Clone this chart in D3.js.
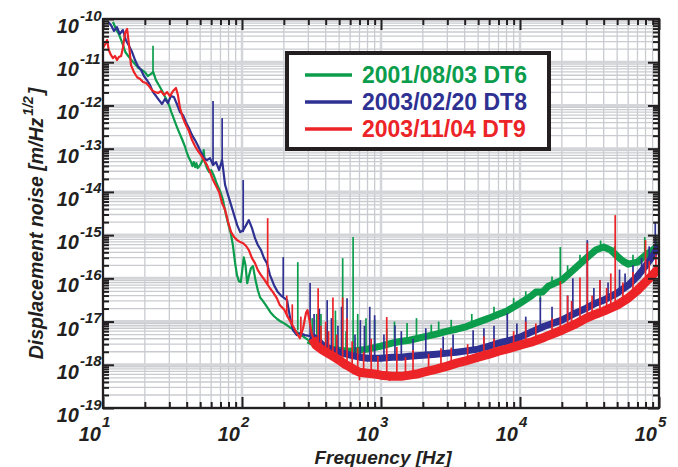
<!DOCTYPE html>
<html>
<head>
<meta charset="utf-8">
<script src="https://cdn.jsdelivr.net/npm/d3@7"></script>
<style>
  body { margin: 0; background: #fff; }
  svg text { font-family: "Liberation Sans", Arial, sans-serif; font-weight: bold; }
</style>
</head>
<body>
<svg id="chart" width="678" height="467"></svg>
<script>
// ---- axis ticks -------------------------------------------------------
const xTickExponents = [1, 2, 3, 4, 5];
const yTickExponents = [-19, -18, -17, -16, -15, -14, -13, -12, -11, -10];

// ---- series -------------------------------------------------------------
const seriesNames = ["2001/08/03 DT6", "2003/02/20 DT8", "2003/11/04 DT9"];

// DT6: low-frequency trace [Hz, m/Hz^1/2]
const dt6Trace = [[11.8,8.5e-11],[12.5,5.5e-11],[13,4.5e-11],[13.5,3.3e-11],[14,2.4e-11],[14.5,1.7e-11],[15,1.47e-11],[16,1.12e-11],[17,9.1e-12],[18,7.3e-12],[19,6.6e-12],[20,5.9e-12],[21,4.8e-12],[22,5.3e-12],[23,5.9e-12],[24,3.9e-12],[25,3.1e-12],[26,2.5e-12],[27,2.0e-12],[28,1.56e-12],[29,1.26e-12],[30,9.7e-13],[31,7.0e-13],[32,5.4e-13],[33,4.1e-13],[34,3.2e-13],[35,2.55e-13],[36,2.06e-13],[37,1.67e-13],[38,1.35e-13],[39,1.09e-13],[40,8.3e-14],[41,6.7e-14],[42,5.7e-14],[43,4.9e-14],[44,3.95e-14],[45,4.9e-14],[46,3.75e-14],[47,4.6e-14],[48,3.55e-14],[50,4.2e-14],[52,5.4e-14],[53,9.3e-14],[54,4.9e-14],[56,3.55e-14],[58,2.9e-14],[60,3.2e-14],[63,2.3e-14],[66,1.52e-14],[70,9.9e-15],[73,6.45e-15],[76,3.4e-15],[80,1.7e-15],[83,1.11e-15],[86,5.9e-16],[89,2.37e-16],[92,1.19e-16],[95,8.6e-17],[98,8.2e-17],[100,1.39e-16],[103,3.05e-16],[106,2.0e-16],[109,7.7e-17],[112,1.12e-16],[116,1.72e-16],[120,1.92e-16],[125,9.1e-17],[130,5.3e-17],[135,3.6e-17],[140,3.13e-17],[150,2.27e-17],[160,1.65e-17],[170,1.33e-17],[180,1.13e-17],[190,1.0e-17],[200,9.2e-18],[220,7.4e-18],[240,6.3e-18],[260,5.1e-18],[280,4.35e-18],[300,3.7e-18]];
// DT6: broadband noise floor
const dt6Floor = [[300,3.7e-18],[340,3.0e-18],[380,2.56e-18],[450,2.3e-18],[500,2.18e-18],[600,2.07e-18],[700,2.18e-18],[800,2.3e-18],[1000,2.7e-18],[1200,3.16e-18],[1400,3.5e-18],[1600,3.7e-18],[2000,4.35e-18],[2500,5.1e-18],[3000,6.0e-18],[3500,6.65e-18],[4000,7.4e-18],[5000,9.7e-18],[6000,1.2e-17],[7000,1.48e-17],[8000,1.74e-17],[10000,2.66e-17],[12000,3.87e-17],[13000,4.8e-17],[14500,4.8e-17],[16000,6.6e-17],[20000,9.1e-17],[25000,1.72e-16],[30000,2.93e-16],[35000,4.5e-16],[40000,5.3e-16],[45000,4.5e-16],[50000,3.26e-16],[55000,2.5e-16],[60000,2.13e-16],[70000,2.37e-16],[80000,3.45e-16],[90000,4.5e-16],[100000,5.9e-16]];
// DT6: narrow lines and noise excursions [Hz, from, to]
const dt6Lines = [[22.9,5.3e-12,2.4e-11],[252,6.3e-18,2.37e-16],[320,3.3e-18,1.2e-17],[345,2.9e-18,1.5e-17],[370,2.6e-18,1.5e-17],[400,2.45e-18,8e-18],[470,2.25e-18,1.8e-17],[530,2.18e-18,2.93e-16],[560,2.1e-18,6e-18],[630,2.1e-18,9e-16],[680,2.15e-18,1.5e-17],[780,2.3e-18,1.2e-17],[900,2.5e-18,1.1e-17],[1100,2.9e-18,7e-18],[1250,3.1e-18,1.0e-17],[1540,3.6e-18,9.2e-18],[1800,4e-18,1.2e-17],[2300,4.6e-18,8.5e-18],[2600,5.3e-18,1e-17],[3200,6.2e-18,1.1e-17],[4500,8.5e-18,1.5e-17],[6500,1.35e-17,2.2e-17],[9000,2.2e-17,3.5e-17],[11000,3.2e-17,5e-17],[14000,4.8e-17,2.81e-17],[17000,7e-17,1.1e-16],[19500,9.1e-17,5.3e-16],[22000,1.2e-16,2e-16],[27000,2.2e-16,3.5e-16],[38000,5e-16,7.5e-16],[48000,3.7e-16,5.5e-16],[65000,2.2e-16,3.5e-16],[79000,3.45e-16,9e-16],[95000,5e-16,9e-16]];

// DT8
const dt8Trace = [[10.9,8.5e-11],[11.4,7.3e-11],[12,5.3e-11],[12.6,6.5e-11],[13.2,4.5e-11],[13.9,5.55e-11],[14.6,3.26e-11],[15.4,2.37e-11],[16.2,1.72e-11],[17,1.12e-11],[17.8,8.2e-12],[18.8,6.6e-12],[19.7,4.8e-12],[20.7,3.87e-12],[21.8,2.96e-12],[22.9,2.04e-12],[24.1,1.65e-12],[25.3,1.33e-12],[26.6,1.08e-12],[27.9,1.41e-12],[29.3,1.14e-12],[30.8,1.65e-12],[32.4,1.56e-12],[34,1.08e-12],[35.8,7.0e-13],[37.6,6.0e-13],[39.5,4.1e-13],[41.5,3.0e-13],[43.7,2.06e-13],[45.9,1.58e-13],[48.3,1.15e-13],[50.7,8.3e-14],[53.3,6.05e-14],[56,5.45e-14],[58.9,6.05e-14],[61.9,4.17e-14],[65.1,4.9e-14],[68.4,3.2e-14],[71.9,5.45e-14],[75.6,1.44e-14],[79.4,8.4e-15],[83.5,4.94e-15],[87.8,2.9e-15],[92.3,1.7e-15],[97,1.17e-15],[102,1.3e-15],[107,1.7e-15],[112,2.22e-15],[118,1.45e-15],[124,8.5e-16],[130,5.9e-16],[137,4.5e-16],[144,2.93e-16],[151,2.25e-16],[159,1.19e-16],[170,6.95e-17],[181,4.8e-17],[193,3.87e-17],[211,3.13e-17],[222,1.2e-17],[233,6.3e-18],[248,4.85e-18],[261,5.4e-18],[284,4.85e-18],[310,4.6e-18]];
const dt8Floor = [[310,4.6e-18],[340,4.1e-18],[380,2.85e-18],[450,2.18e-18],[500,1.96e-18],[600,1.67e-18],[700,1.5e-18],[800,1.42e-18],[1000,1.42e-18],[1200,1.5e-18],[1400,1.5e-18],[1600,1.58e-18],[2000,1.67e-18],[2500,1.76e-18],[3000,1.86e-18],[3500,1.96e-18],[4000,2.07e-18],[5000,2.3e-18],[6000,2.7e-18],[7000,3.16e-18],[8000,3.5e-18],[10000,4.35e-18],[12000,5.7e-18],[15000,7.8e-18],[20000,1.08e-17],[25000,1.56e-17],[30000,2.04e-17],[35000,2.66e-17],[40000,3.13e-17],[50000,4.55e-17],[60000,6.95e-17],[70000,1.12e-16],[80000,1.92e-16],[90000,3.26e-16],[100000,5.9e-16]];
const dt8Lines = [[61.9,4.17e-14,1.26e-12],[72,5.45e-14,5.1e-13],[102,1.17e-15,1.88e-14],[198,3.87e-17,3.1e-16],[309,4.6e-18,7.75e-17],[330,3.5e-18,1.5e-17],[360,3.3e-18,2e-17],[410,2.6e-18,3.13e-17],[440,2.2e-18,1.2e-17],[490,2e-18,8e-18],[520,1.9e-18,2.2e-17],[570,1.8e-18,3.48e-17],[650,1.6e-18,5e-18],[710,1.5e-18,1.08e-17],[760,1.45e-18,8e-18],[830,1.42e-18,2.2e-17],[900,1.42e-18,1.4e-17],[1050,1.42e-18,5e-18],[1260,1.5e-18,8.2e-18],[1400,1.5e-18,6e-18],[1700,1.6e-18,4e-18],[2100,1.7e-18,7e-18],[2800,1.8e-18,4.5e-18],[3300,1.9e-18,5e-18],[4600,2.1e-18,6.3e-18],[5500,2.5e-18,7e-18],[6500,2.9e-18,8e-18],[8100,3.5e-18,1.55e-17],[9500,4.2e-18,9e-18],[11000,5e-18,1.3e-17],[14000,6.5e-18,3.6e-17],[17000,9e-18,2.2e-17],[22000,1.25e-17,4e-17],[24000,1.4e-17,1e-16],[30500,2.0e-17,7.65e-16],[34000,2.5e-17,6e-17],[37600,2.8e-17,9.1e-17],[43000,3.5e-17,8e-17],[52000,4.8e-17,1.6e-16],[57000,6e-17,1.3e-16],[65000,9e-17,2e-16],[75000,1.5e-16,3e-16],[85000,2.5e-16,5.5e-16],[94000,4.5e-16,1.9e-15]];

// DT9
const dt9Trace = [[10,2.13e-11],[10.3,2.5e-11],[10.7,3.26e-11],[11,1.92e-11],[11.4,1.47e-11],[11.8,1.25e-11],[12.2,1.39e-11],[12.6,1.12e-11],[13,1.32e-11],[13.5,1.39e-11],[13.9,2.13e-11],[14.4,4.7e-11],[14.9,5.9e-11],[15.4,2.5e-11],[15.9,8.6e-12],[16.7,5.9e-12],[17.6,4.5e-12],[18.5,4.08e-12],[19.4,3.48e-12],[20.4,3.3e-12],[21.4,2.81e-12],[22.5,2.27e-12],[23.6,2.04e-12],[24.9,1.94e-12],[26.1,2.15e-12],[27.5,1.74e-12],[28.9,2.04e-12],[30.3,1.65e-12],[31.9,2.15e-12],[33.5,2.53e-12],[34.6,1.74e-12],[35.8,8.7e-13],[37.6,5.1e-13],[39.5,3.52e-13],[41.5,2.55e-13],[43.7,1.58e-13],[45.9,1.15e-13],[48.3,8.8e-14],[50.7,7.1e-14],[53.3,5.45e-14],[56,4.17e-14],[58.9,2.87e-14],[61.9,1.88e-14],[65.1,1.36e-14],[68.4,9.9e-15],[71.9,5.5e-15],[75.6,3.8e-15],[79.4,2.0e-15],[83.5,1.17e-15],[87.8,9.0e-16],[92.3,7.65e-16],[97,6.9e-16],[102,6.5e-16],[107,5.6e-16],[112,4.5e-16],[118,2.93e-16],[124,2.25e-16],[130,1.55e-16],[137,1.19e-16],[144,9.6e-17],[159,5.9e-17],[167,4.8e-17],[178,3.48e-17],[187,2.4e-17],[202,1.84e-17],[216,1.2e-17],[233,7.8e-18],[248,5.4e-18],[261,4.1e-18],[275,7e-18],[289,1.6e-17],[296,1.84e-17],[305,1.1e-17],[318,5.1e-18],[340,2.85e-18]];
const dt9Floor = [[320,4.1e-18],[340,2.85e-18],[380,2.18e-18],[450,1.58e-18],[500,1.28e-18],[550,1.03e-18],[600,8.8e-19],[650,7.5e-19],[700,6.7e-19],[800,6.4e-19],[900,6.1e-19],[1000,5.75e-19],[1200,5.4e-19],[1400,5.4e-19],[1600,5.75e-19],[1800,6.1e-19],[2000,6.7e-19],[2500,7.9e-19],[3000,9.3e-19],[3500,1.09e-18],[4000,1.21e-18],[5000,1.5e-18],[6000,1.76e-18],[7000,2.07e-18],[8000,2.3e-18],[10000,2.85e-18],[12000,3.33e-18],[15000,4.35e-18],[20000,6.3e-18],[25000,8.7e-18],[30000,1.2e-17],[35000,1.48e-17],[40000,1.74e-17],[50000,2.4e-17],[60000,3.48e-17],[70000,5.3e-17],[80000,8.2e-17],[90000,1.19e-16],[100000,1.72e-16]];
const dt9Lines = [[153,7e-17,2.47e-15],[210,1.3e-17,4e-17],[230,8e-18,2.5e-17],[265,4.5e-18,1.3e-17],[353,2.85e-18,5.9e-17],[370,2.3e-18,8e-18],[400,2e-18,1e-17],[420,1.9e-18,6e-18],[451,1.58e-18,3.6e-17],[480,1.4e-18,5e-18],[530,1.28e-18,3.6e-17],[570,1.1e-18,1.2e-17],[620,8e-19,3.5e-18],[680,7e-19,2.5e-18],[700,6.7e-19,4.4e-19],[750,6.5e-19,2e-18],[850,6.2e-19,4e-18],[950,6e-19,1.6e-18],[1100,5.6e-19,1.27e-17],[1150,5.6e-19,4.2e-19],[1300,5.4e-19,2.6e-18],[1500,5.5e-19,1.5e-18],[1700,5.9e-19,2.2e-18],[2200,7e-19,1.8e-18],[2700,8.5e-19,2.4e-18],[3200,1e-18,2.5e-18],[4200,1.25e-18,3e-18],[5500,1.6e-18,4.5e-18],[6500,1.9e-18,4e-18],[9000,2.6e-18,6e-18],[11000,3.1e-18,1e-17],[13000,3.6e-18,9e-18],[17000,5e-18,1.2e-17],[19500,6.3e-18,8.6e-17],[22000,7e-18,4e-17],[23500,7.8e-18,3e-17],[27000,1e-17,1.05e-16],[30500,1.1e-17,6.5e-16],[33000,1.35e-17,4e-17],[37600,1.6e-17,9.1e-17],[42000,1.85e-17,6e-17],[45000,2e-17,1.3e-16],[48400,2.3e-17,2.9e-15],[55000,2.9e-17,8e-17],[65000,4.3e-17,1.4e-16],[80000,8.2e-17,7.65e-16],[85000,1e-16,2.5e-16],[95000,1.45e-16,3.5e-16]];

// ---- layout -------------------------------------------------------------
const plot = { left: 103, right: 659, top: 19, bottom: 408 };
const colors = ["#0b9d4c", "#2e3192", "#ec2327"];
const series = [
  { name: seriesNames[0], color: colors[0], trace: dt6Trace, floor: dt6Floor, lines: dt6Lines, floorWidth: 7 },
  { name: seriesNames[1], color: colors[1], trace: dt8Trace, floor: dt8Floor, lines: dt8Lines, floorWidth: 7 },
  { name: seriesNames[2], color: colors[2], trace: dt9Trace, floor: dt9Floor, lines: dt9Lines, floorWidth: 9 }
];

const svg = d3.select("#chart");
const x = d3.scaleLog().domain([1e1, 1e5]).range([plot.left, plot.right]);
const y = d3.scaleLog().domain([1e-19, 1e-10]).range([plot.bottom, plot.top]);

// decade multiples for minor ticks / grid
const xMajor = xTickExponents.map(e => Math.pow(10, e));
const yMajor = yTickExponents.map(e => Math.pow(10, e));
const xMinor = [], yMinor = [];
xTickExponents.slice(0, -1).forEach(e => { for (let m = 2; m <= 9; m++) xMinor.push(m * Math.pow(10, e)); });
yTickExponents.slice(0, -1).forEach(e => { for (let m = 2; m <= 9; m++) yMinor.push(m * Math.pow(10, e)); });

// ---- grid ---------------------------------------------------------------
const grid = svg.append("g");
grid.selectAll(".gx").data(xMinor).join("line")
  .attr("x1", d => x(d)).attr("x2", d => x(d)).attr("y1", plot.top).attr("y2", plot.bottom)
  .attr("stroke", "#c9cbd0").attr("stroke-width", 1.3);
grid.selectAll(".gy").data(yMinor).join("line")
  .attr("y1", d => y(d)).attr("y2", d => y(d)).attr("x1", plot.left).attr("x2", plot.right)
  .attr("stroke", "#c9cbd0").attr("stroke-width", 1.3);
grid.selectAll(".gxm").data(xMajor).join("line")
  .attr("x1", d => x(d)).attr("x2", d => x(d)).attr("y1", plot.top).attr("y2", plot.bottom)
  .attr("stroke", "#d3d5d9").attr("stroke-width", 2.5);
grid.selectAll(".gym").data(yMajor).join("line")
  .attr("y1", d => y(d)).attr("y2", d => y(d)).attr("x1", plot.left).attr("x2", plot.right)
  .attr("stroke", "#d3d5d9").attr("stroke-width", 3);

// ---- data ---------------------------------------------------------------
svg.append("clipPath").attr("id", "plotclip").append("rect")
  .attr("x", plot.left).attr("y", plot.top)
  .attr("width", plot.right - plot.left).attr("height", plot.bottom - plot.top);
const dataLayer = svg.append("g").attr("clip-path", "url(#plotclip)");
const line = d3.line().x(d => x(d[0])).y(d => y(d[1]));

series.forEach(s => {
  const g = dataLayer.append("g");
  g.append("path").datum(s.floor).attr("d", line)
    .attr("fill", "none").attr("stroke", s.color)
    .attr("stroke-width", s.floorWidth).attr("stroke-linejoin", "round");
  g.append("path").datum(s.trace).attr("d", line)
    .attr("fill", "none").attr("stroke", s.color)
    .attr("stroke-width", 2.2).attr("stroke-linejoin", "round");
  g.selectAll("line").data(s.lines).join("line")
    .attr("x1", d => x(d[0])).attr("x2", d => x(d[0]))
    .attr("y1", d => y(d[1])).attr("y2", d => y(d[2]))
    .attr("stroke", s.color).attr("stroke-width", 1.7);
});

// ---- frame & ticks ------------------------------------------------------
function styleTicks(g) {
  g.select(".domain").remove();
  g.selectAll(".tick line").attr("stroke", "#231f20").attr("stroke-width", 2);
  g.selectAll(".tick text").remove();
}
const axes = [
  [d3.axisBottom(x), `translate(0,${plot.bottom})`, xMinor, xMajor],
  [d3.axisTop(x), `translate(0,${plot.top})`, xMinor, xMajor],
  [d3.axisLeft(y), `translate(${plot.left},0)`, yMinor, yMajor],
  [d3.axisRight(y), `translate(${plot.right},0)`, yMinor, yMajor]
];
axes.forEach(([axis, tr, minor, major]) => {
  svg.append("g").attr("transform", tr)
    .call(axis.tickValues(minor).tickSize(-6).tickFormat(""))
    .call(styleTicks);
  svg.append("g").attr("transform", tr)
    .call(axis.tickValues(major).tickSize(-11).tickFormat(""))
    .call(styleTicks);
});
svg.append("rect")
  .attr("x", plot.left).attr("y", plot.top)
  .attr("width", plot.right - plot.left).attr("height", plot.bottom - plot.top)
  .attr("fill", "none").attr("stroke", "#231f20").attr("stroke-width", 2.2);

// ---- tick labels --------------------------------------------------------
const labelColor = "#231f20";
yTickExponents.forEach(e => {
  const yy = y(Math.pow(10, e));
  svg.append("text").attr("x", 79).attr("y", yy + 14)
    .attr("text-anchor", "end").attr("font-size", 20).attr("font-style", "italic")
    .attr("fill", labelColor).text("10");
  svg.append("text").attr("x", 80).attr("y", yy + 1.5)
    .attr("font-size", 15).attr("font-style", "italic")
    .attr("fill", labelColor).text(String(e));
});
xTickExponents.forEach(e => {
  const xx = x(Math.pow(10, e));
  svg.append("text").attr("x", xx - 2).attr("y", 441)
    .attr("text-anchor", "end").attr("font-size", 20).attr("font-style", "italic")
    .attr("fill", labelColor).text("10");
  svg.append("text").attr("x", xx - 1).attr("y", 427)
    .attr("font-size", 15).attr("font-style", "italic")
    .attr("fill", labelColor).text(String(e));
});

// ---- axis titles --------------------------------------------------------
svg.append("text").attr("x", 383).attr("y", 464)
  .attr("text-anchor", "middle").attr("font-size", 19).attr("font-style", "italic")
  .attr("fill", labelColor).text("Frequency [Hz]");
const yTitle = svg.append("text")
  .attr("transform", `translate(43,${(plot.top + plot.bottom) / 2 + 10}) rotate(-90)`)
  .attr("text-anchor", "middle").attr("font-size", 19.5).attr("font-style", "italic")
  .attr("fill", labelColor);
yTitle.append("tspan").text("Displacement noise [m/Hz");
yTitle.append("tspan").attr("font-size", 14).attr("dy", -10).attr("dx", 2).text("1/2");
yTitle.append("tspan").attr("dy", 10).attr("dx", 2).text("]");

// ---- legend -------------------------------------------------------------
const legend = svg.append("g");
legend.append("rect").attr("x", 287).attr("y", 53).attr("width", 262).attr("height", 96)
  .attr("fill", "#fff").attr("stroke", "#231f20").attr("stroke-width", 4);
series.forEach((s, i) => {
  const ly = 75 + i * 27;
  legend.append("line").attr("x1", 305).attr("x2", 352).attr("y1", ly).attr("y2", ly)
    .attr("stroke", s.color).attr("stroke-width", 3.5);
  legend.append("text").attr("x", 362).attr("y", ly + 8)
    .attr("font-size", 23).attr("fill", s.color).text(s.name);
});
</script>
</body>
</html>
